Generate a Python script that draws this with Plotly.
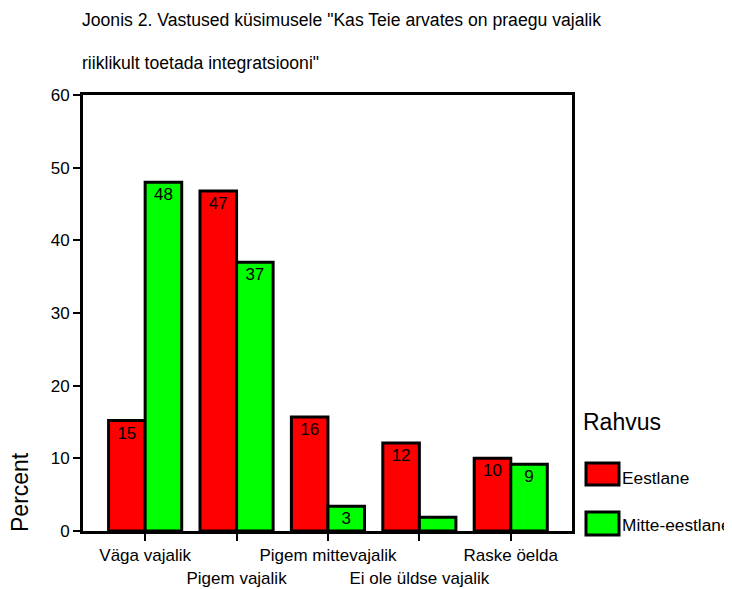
import plotly.graph_objects as go

categories = ["Väga vajalik", "Pigem vajalik", "Pigem mittevajalik", "Ei ole üldse vajalik", "Raske öelda"]
tick_labels = ["Väga vajalik", "<br>Pigem vajalik", "Pigem mittevajalik", "<br>Ei ole üldse vajalik", "Raske öelda"]
eestlane = [15.2, 46.8, 15.7, 12.1, 10.0]
mitte_eestlane = [48.0, 37.0, 3.4, 1.9, 9.2]
eestlane_labels = ["15", "47", "16", "12", "10"]
mitte_labels = ["48", "37", "3", "", "9"]
series_names = ["Eestlane", "Mitte-eestlane"]
colors = ["#FF0000", "#00FF00"]
title_lines = ['Joonis 2. Vastused küsimusele "Kas Teie arvates on praegu vajalik',
               'riiklikult toetada integratsiooni"']

OFF = 8  # page body margin
W, H = 732, 589 - OFF
L, R, T, B = 83 - OFF, 572 - OFF, 95 - OFF, 531 - OFF
FONT = "Liberation Sans, Arial, sans-serif"

def px_x(x):
    return (x - OFF - L) / (R - L)

def px_y(y):
    return (B - (y - OFF)) / (B - T)

fig = go.Figure()
for name, vals, labs, col in [(series_names[0], eestlane, eestlane_labels, colors[0]),
                              (series_names[1], mitte_eestlane, mitte_labels, colors[1])]:
    fig.add_trace(go.Bar(
        x=list(range(len(categories))), y=vals, name=name,
        marker=dict(color=col, line=dict(color="black", width=3)),
        text=labs, textposition="inside", insidetextanchor="end",
        constraintext="none", textangle=0,
        textfont=dict(family=FONT, size=17, color="black"),
        showlegend=False, cliponaxis=False,
    ))

fig.update_layout(
    width=W, height=H,
    margin=dict(l=L, r=W - R, t=T, b=H - B, autoexpand=False),
    paper_bgcolor="white", plot_bgcolor="white",
    barmode="group", bargap=0.2, bargroupgap=0,
    font=dict(family=FONT, size=17, color="black"),
    xaxis=dict(
        range=[-0.68, 4.67], tickmode="array",
        tickvals=list(range(len(categories))), ticktext=tick_labels,
        showline=True, mirror=True, linecolor="black", linewidth=3,
        ticks="outside", ticklen=7, tickwidth=2, tickcolor="black",
        showgrid=False, zeroline=False, tickfont=dict(size=17),
        tickangle=0, automargin=False,
    ),
    yaxis=dict(
        range=[0, 60], tickmode="array", tickvals=[0, 10, 20, 30, 40, 50, 60],
        showline=True, mirror=True, linecolor="black", linewidth=3,
        ticks="outside", ticklen=7, tickwidth=2, tickcolor="black",
        showgrid=False, zeroline=False, tickfont=dict(size=17),
        automargin=False,
    ),
)

annotations = [
    dict(text=title_lines[0], x=px_x(80), y=px_y(20)),
    dict(text=title_lines[1], x=px_x(80), y=px_y(63)),
]
for a in annotations:
    a.update(xref="paper", yref="paper", xanchor="left", yanchor="middle",
             showarrow=False, font=dict(size=17.6))
annotations.append(dict(text="Percent", x=px_x(20), y=px_y(492), xref="paper", yref="paper",
                        textangle=-90, showarrow=False, xanchor="center", yanchor="middle",
                        font=dict(size=23)))
annotations.append(dict(text="Rahvus", x=px_x(581), y=px_y(422), xref="paper", yref="paper",
                        showarrow=False, xanchor="left", yanchor="middle", font=dict(size=23)))

shapes = []
legend_rows = [(463, 485, 478), (512, 535, 525)]
for (y0, y1, yc), name, col in zip(legend_rows, series_names, colors):
    shapes.append(dict(type="rect", xref="paper", yref="paper",
                       x0=px_x(586), x1=px_x(619), y0=px_y(y1), y1=px_y(y0),
                       fillcolor=col, line=dict(color="black", width=3)))
    annotations.append(dict(text=name, x=px_x(620), y=px_y(yc), xref="paper", yref="paper",
                            showarrow=False, xanchor="left", yanchor="middle", font=dict(size=17.3)))

fig.update_layout(annotations=annotations, shapes=shapes)
fig.write_html("out.html")
